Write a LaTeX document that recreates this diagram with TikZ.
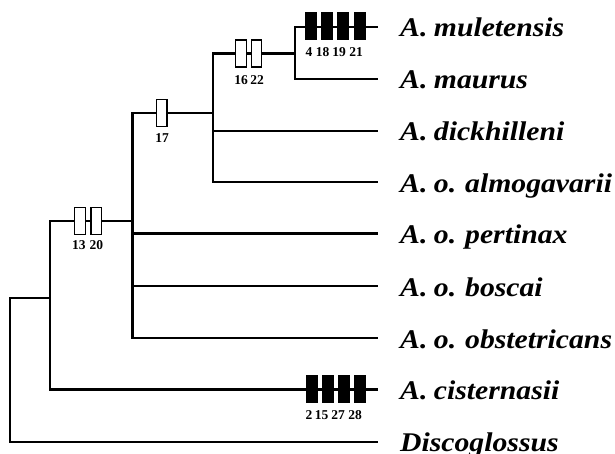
\documentclass[tikz,border=0pt]{standalone}
\usepackage{fontspec}
\setmainfont{Liberation Serif}
\newfontfamily\taxonfont[FakeStretch=1.1]{Liberation Serif}
\begin{document}
\begin{tikzpicture}[x=1pt,y=-1pt,
  branch/.style={line width=2.3pt,line cap=rect},
  openchar/.style={draw,fill=white,line width=1.4pt,minimum width=10.5pt,minimum height=27pt,inner sep=0pt},
  solidchar/.style={fill=black,minimum width=12pt,minimum height=28pt,inner sep=0pt},
  charnum/.style={font=\fontsize{13.5}{13.5}\selectfont\bfseries,inner sep=0pt},
  taxon/.style={font=\taxonfont\fontsize{27}{30}\selectfont\bfseries\itshape,anchor=base west,inner sep=0pt}]
\useasboundingbox (0,0) rectangle (615,454);

% tip ends of the terminal branches
\foreach \i/\yy in {1/26.7,2/79,3/130.7,4/182.3,5/233.5,6/286,7/338,8/389.5,9/441.7}
  \coordinate (t\i) at (377,\yy);

% internal nodes: top and bottom of each vertical bar
\coordinate (r)  at (10,298);    \coordinate (rb) at (10,441.7);
\coordinate (a)  at (50,221);    \coordinate (ab) at (50,389.5);
\coordinate (b)  at (132.5,113); \coordinate (bb) at (132.5,338);
\coordinate (c)  at (213,53.5);  \coordinate (cb) at (213,182.3);
\coordinate (d)  at (295,26.7);  \coordinate (db) at (295,79);

% tree
\draw[branch] (r) -- (rb) (rb) -- (t9) (r) -- (a |- r);
\draw[branch] (a) -- (ab) (ab) -- (t8) (a) -- (b |- a);
\draw[branch] (b) -- (bb) (bb) -- (t7) (b |- t6) -- (t6) (b |- t5) -- (t5) (b) -- (c |- b);
\draw[branch] (c) -- (cb) (cb) -- (t4) (c |- t3) -- (t3) (c) -- (d |- c);
\draw[branch] (d) -- (db) (db) -- (t2) (d) -- (t1);

% character state changes
\node[openchar] (k13) at (80,221) {};
\node[openchar] (k20) at (96.3,221) {};
\node[charnum] at (78.8,245) {13};
\node[charnum] at (96.3,245) {20};

\node[openchar] (k17) at (161.7,113) {};
\node[charnum] at (162,138) {17};

\node[openchar] (k16) at (241,53.5) {};
\node[openchar] (k22) at (256.5,53.5) {};
\node[charnum] at (241,80) {16};
\node[charnum] at (257,80) {22};

\foreach \n/\xx/\lx in {4/311.2/309,18/327/322.5,19/343.3/339,21/359.5/356} {
  \node[solidchar] (m\n) at (\xx,26.5) {};
  \node[charnum] at (\lx,52) {\n};
}
\foreach \n/\xx/\lx in {2/311.7/309,15/327.8/321.5,27/344.2/338,28/360/355} {
  \node[solidchar] (s\n) at (\xx,389.3) {};
  \node[charnum] at (\lx,415) {\n};
}

% taxa
\foreach \i/\name in {1/A. muletensis,2/A. maurus,3/A. dickhilleni,4/A. o. almogavarii,
    5/A. o. pertinax,6/A. o. boscai,7/A. o. obstetricans,8/A. cisternasii,9/Discoglossus}
  \node[taxon] (x\i) at ([xshift=23pt,yshift=-10pt]t\i) {\fontdimen2\font=6.5pt\name};
\end{tikzpicture}
\end{document}
